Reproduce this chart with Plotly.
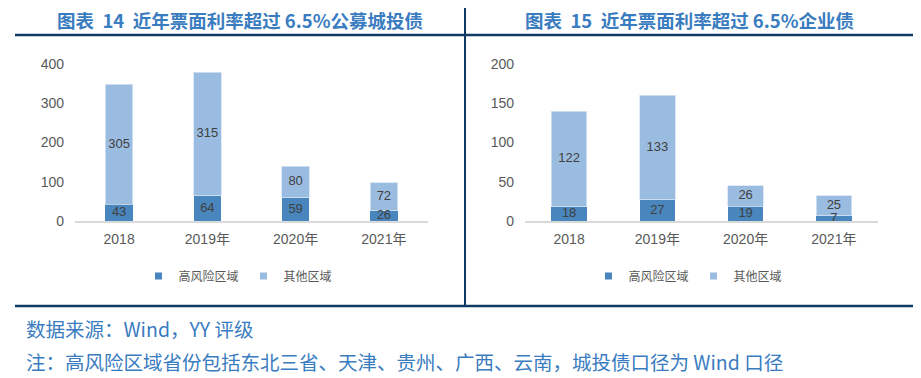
import plotly.graph_objects as go

categories = ["2018", "2019年", "2020年", "2021年"]

# Left panel: 公募城投债
left_high = [43, 64, 59, 26]
left_other = [305, 315, 80, 72]

# Right panel: 企业债
right_high = [18, 27, 19, 7]
right_other = [122, 133, 26, 25]

left_ticks = [0, 100, 200, 300, 400]
right_ticks = [0, 50, 100, 150, 200]

series_names = ["高风险区域", "其他区域"]
title_left = "图表  14  近年票面利率超过 6.5%公募城投债"
title_right = "图表  15  近年票面利率超过 6.5%企业债"
note_source = "数据来源：Wind，YY 评级"
note_text = "注：高风险区域省份包括东北三省、天津、贵州、广西、云南，城投债口径为 Wind 口径"

DARK = "#4A86BE"
LIGHT = "#9BBCE1"
NAVY = "#0F3A63"
TITLE_BLUE = "#3A7CC0"
TEXT_GRAY = "#404040"
TICK_GRAY = "#595959"
NUM_FONT = "Liberation Sans, Arial, Noto Sans CJK SC"
CJK_FONT = "Noto Sans CJK SC, Liberation Sans"

# The page places the figure 8px in from the top-left corner of the window
OFF = 8
W, H = 921 - OFF, 378 - OFF

def px_x(p):
    return (p - OFF) / W

def px_y(p):
    return 1 - (p - OFF) / H

fig = go.Figure()

def add_panel(x_ax, y_ax, high, other, legend, width):
    common = dict(x=categories, xaxis=x_ax, yaxis=y_ax, width=width,
                  textposition="none", showlegend=False, hoverinfo="x+y")
    fig.add_trace(go.Bar(y=high, name=series_names[0],
                         marker=dict(color=DARK, line=dict(width=0)), **common))
    fig.add_trace(go.Bar(y=other, name=series_names[1],
                         marker=dict(color=LIGHT, line=dict(width=0.8, color="#D6E3F3")), **common))
    # value labels drawn on top of both stacks
    mid_high = [h / 2 for h in high]
    mid_other = [h + o / 2 for h, o in zip(high, other)]
    for ys, vals in ((mid_high, high), (mid_other, other)):
        fig.add_trace(go.Scatter(x=categories, y=ys, text=[str(v) for v in vals],
                                 mode="text", xaxis=x_ax, yaxis=y_ax, cliponaxis=False,
                                 textfont=dict(family=NUM_FONT, size=13, color=TEXT_GRAY),
                                 showlegend=False, hoverinfo="skip"))
    # legend entries (small square keys)
    for name, col in ((series_names[0], DARK), (series_names[1], LIGHT)):
        fig.add_trace(go.Scatter(x=[None], y=[None], mode="markers", name=name,
                                 xaxis=x_ax, yaxis=y_ax, legend=legend,
                                 marker=dict(symbol="square", size=7, color=col)))

add_panel("x", "y", left_high, left_other, "legend", 0.31)
add_panel("x2", "y2", right_high, right_other, "legend2", 0.40)

y_dom = [px_y(221), px_y(64)]

axis_x = dict(
    type="category",
    showline=True, linecolor="#D9D9D9", linewidth=1.5, ticks="",
    tickfont=dict(family=NUM_FONT, size=14, color=TICK_GRAY),
    ticklabelstandoff=4,
    showgrid=False, zeroline=False, fixedrange=True, automargin=False,
)
axis_y = dict(
    showline=False, ticks="", showgrid=False, zeroline=False,
    tickfont=dict(family=NUM_FONT, size=14, color=TICK_GRAY),
    ticklabelstandoff=10, automargin=False,
)

legend_common = dict(
    orientation="h", xanchor="center", yanchor="middle",
    font=dict(family=CJK_FONT, size=12, color=TICK_GRAY),
    bgcolor="rgba(0,0,0,0)", itemwidth=30, tracegroupgap=0,
    traceorder="normal",
)

fig.update_layout(
    width=W, height=H,
    autosize=False,
    margin=dict(l=0, r=0, t=0, b=0, pad=0, autoexpand=False),
    paper_bgcolor="white", plot_bgcolor="white",
    barmode="stack",
    showlegend=True,
    xaxis=dict(domain=[px_x(75), px_x(428)], anchor="y", **axis_x),
    yaxis=dict(domain=y_dom, anchor="x", range=[0, 400], tickvals=left_ticks, **axis_y),
    xaxis2=dict(domain=[px_x(525), px_x(878)], anchor="y2", **axis_x),
    yaxis2=dict(domain=y_dom, anchor="x2", range=[0, 200], tickvals=right_ticks, **axis_y),
    legend=dict(x=px_x(238), y=px_y(276), **legend_common),
    legend2=dict(x=px_x(688), y=px_y(276), **legend_common),
)

# Titles and notes
ann = dict(xref="paper", yref="paper", showarrow=False, yanchor="middle", borderpad=0)
fig.add_annotation(text=f"<b>{title_left}</b>", x=px_x(240), y=px_y(20), xanchor="center",
                   font=dict(family=CJK_FONT, size=18.5, color=TITLE_BLUE), **ann)
fig.add_annotation(text=f"<b>{title_right}</b>", x=px_x(689), y=px_y(20), xanchor="center",
                   font=dict(family=CJK_FONT, size=18.5, color=TITLE_BLUE), **ann)
fig.add_annotation(text=note_source, x=px_x(25), y=px_y(328), xanchor="left",
                   font=dict(family=CJK_FONT, size=19.5, color=TITLE_BLUE), **ann)
fig.add_annotation(text=note_text, x=px_x(25), y=px_y(361), xanchor="left",
                   font=dict(family=CJK_FONT, size=19.5, color=TITLE_BLUE), **ann)

# Frame lines
fig.add_shape(type="line", xref="paper", yref="paper", x0=px_x(15), x1=px_x(916),
              y0=px_y(35), y1=px_y(35), line=dict(color=NAVY, width=2.5))
fig.add_shape(type="line", xref="paper", yref="paper", x0=px_x(465), x1=px_x(465),
              y0=1, y1=px_y(306), line=dict(color=NAVY, width=2))
fig.add_shape(type="line", xref="paper", yref="paper", x0=px_x(15), x1=1,
              y0=px_y(306), y1=px_y(306), line=dict(color=NAVY, width=2.5))

fig.write_html("out.html")
